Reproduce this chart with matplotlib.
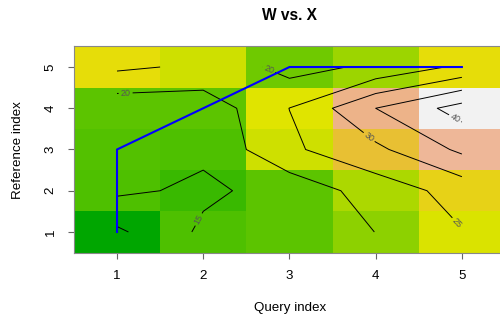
import colorsys
import numpy as np
import matplotlib
matplotlib.use("Agg")
import matplotlib.pyplot as plt
from matplotlib.colors import ListedColormap, Normalize

# ---- data ----
query_index = [1, 2, 3, 4, 5]
reference_index = [1, 2, 3, 4, 5]
# cumulative cost, one list per reference index (columns = query index)
cost_ref1 = [9.1, 15.9, 16.8, 20.05, 24.8]
cost_ref2 = [15.9, 14.1, 16.75, 22.2, 26.9]
cost_ref3 = [16.3, 15.9, 24.1, 28.9, 36.0]
cost_ref4 = [16.7, 16.8, 25.05, 35.0, 42.0]
cost_ref5 = [25.9, 24.1, 18.1, 21.0, 26.0]
contour_levels = [10, 15, 20, 25, 30, 35, 40]
path_query = [1, 1, 1, 2, 3, 4, 5]
path_reference = [1, 2, 3, 4, 5, 5, 5]
title = "W vs. X"
xlabel = "Query index"
ylabel = "Reference index"


def terrain_colors(n):
    k = n // 2
    h = [4 / 12, 2 / 12, 0 / 12]
    s = [1, 1, 0]
    v = [0.65, 0.9, 0.95]
    cols = []
    hh = np.linspace(h[0], h[1], k)
    ss = np.linspace(s[0], s[1], k)
    vv = np.linspace(v[0], v[1], k)
    for a, b, c in zip(hh, ss, vv):
        cols.append(colorsys.hsv_to_rgb(a, b, c))
    m = n - k + 1
    hh = np.linspace(h[1], h[2], m)[1:]
    ss = np.linspace(s[1], s[2], m)[1:]
    vv = np.linspace(v[1], v[2], m)[1:]
    for a, b, c in zip(hh, ss, vv):
        cols.append(colorsys.hsv_to_rgb(a, b, c))
    return cols


plt.rcParams["font.family"] = ["Liberation Sans", "DejaVu Sans"]

Z = np.array([cost_ref1, cost_ref2, cost_ref3, cost_ref4, cost_ref5])
x = np.array(query_index, dtype=float)
y = np.array(reference_index, dtype=float)
xe = np.concatenate([x - 0.5, [x[-1] + 0.5]])
ye = np.concatenate([y - 0.5, [y[-1] + 0.5]])

fig = plt.figure(figsize=(5.0, 3.22), dpi=100)
ax = fig.add_axes([73.9 / 500, 1 - 252.6 / 322, (505 - 73.9) / 500, (252.6 - 46.4) / 322])

cmap = ListedColormap(terrain_colors(100))
ax.pcolormesh(xe, ye, Z, cmap=cmap, norm=Normalize(Z.min(), Z.max()), shading="flat")

cs = ax.contour(x, y, Z, levels=contour_levels, colors="black", linewidths=0.7)
label_pos = [(1.95, 1.3), (1.1, 4.36), (2.76, 4.94), (4.92, 1.17), (3.92, 3.29), (4.92, 3.75)]
ax.clabel(cs, manual=label_pos, inline=True, inline_spacing=2, fontsize=6.5,
          colors="#555555", fmt="%d")

ax.plot(path_query, path_reference, color="blue", lw=1.5)

ax.set_xlim(0.5, 5.5)
ax.set_ylim(0.5, 5.5)
ax.set_xticks(query_index)
ax.set_yticks(reference_index)
ax.tick_params(axis="both", direction="out", length=4.5, width=0.8, color="#666666",
               labelsize=9.6, pad=8)
for lab in ax.get_yticklabels():
    lab.set_rotation(90)
    lab.set_va("center")
for sp in ax.spines.values():
    sp.set_color("#888888")
    sp.set_linewidth(0.8)

fig.text(289 / 500, 1 - 15 / 322, title, ha="center", va="center", fontsize=11.2, fontweight="bold")
fig.text(290 / 500, 1 - 308 / 322, xlabel, ha="center", va="center", fontsize=9.6)
fig.text(18 / 500, 1 - 150 / 322, ylabel, ha="center", va="center", fontsize=9.6, rotation=90)

fig.savefig("out.png", dpi=100)
